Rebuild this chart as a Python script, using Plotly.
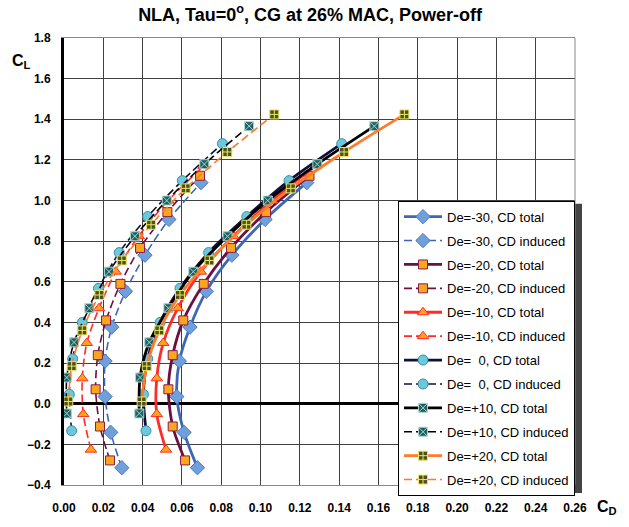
import plotly.graph_objects as go

# ---- data ----
cl_m30 = [-0.315, -0.141, 0.035, 0.210, 0.377, 0.553, 0.731, 0.907, 1.088]
cd_tot_m30 = [0.0679, 0.0611, 0.0574, 0.0587, 0.0641, 0.0724, 0.0854, 0.1023, 0.1235]
cd_ind_m30 = [0.0294, 0.0238, 0.0209, 0.0209, 0.0243, 0.0313, 0.0412, 0.0534, 0.0697]

cl_m20 = [-0.279, -0.112, 0.071, 0.239, 0.410, 0.590, 0.767, 0.943, 1.122]
cd_tot_m20 = [0.0616, 0.0553, 0.0531, 0.0553, 0.0607, 0.0711, 0.0850, 0.1028, 0.1249]
cd_ind_m20 = [0.0234, 0.0183, 0.0161, 0.0172, 0.0214, 0.0287, 0.0387, 0.0526, 0.0692]

cl_m10 = [-0.226, -0.051, 0.125, 0.299, 0.470, 0.650, 0.825, 1.000, 1.170]
cd_tot_m10 = [0.0519, 0.0472, 0.0472, 0.0505, 0.0579, 0.0696, 0.0862, 0.1058, 0.1280]
cd_ind_m10 = [0.0137, 0.0098, 0.0093, 0.0116, 0.0178, 0.0263, 0.0380, 0.0530, 0.0710]

cl_0 = [-0.133, 0.046, 0.221, 0.400, 0.568, 0.744, 0.921, 1.098, 1.280]
cd_tot_0 = [0.0417, 0.0404, 0.0426, 0.0489, 0.0590, 0.0736, 0.0930, 0.1145, 0.1413]
cd_ind_0 = [0.0039, 0.0027, 0.0044, 0.0093, 0.0175, 0.0281, 0.0426, 0.0602, 0.0806]

cl_p10 = [-0.048, 0.129, 0.302, 0.470, 0.650, 0.824, 1.000, 1.179, 1.366]
cd_tot_p10 = [0.0383, 0.0387, 0.0434, 0.0531, 0.0658, 0.0832, 0.1037, 0.1289, 0.1579]
cd_ind_p10 = [0.0014, 0.0014, 0.0051, 0.0129, 0.0229, 0.0361, 0.0523, 0.0714, 0.0942]

cl_p20 = [0.011, 0.185, 0.361, 0.535, 0.705, 0.881, 1.060, 1.239, 1.424]
cd_tot_p20 = [0.0395, 0.0421, 0.0485, 0.0590, 0.0740, 0.0928, 0.1154, 0.1425, 0.1732]
cd_ind_p20 = [0.0022, 0.0039, 0.0093, 0.0180, 0.0294, 0.0443, 0.0619, 0.0831, 0.1070]

series = [
    ("De=-30", cl_m30, cd_tot_m30, cd_ind_m30, "#3F66B6", "diamond", "#6FA0DC", "#4A78C0", 11),
    ("De=-20", cl_m20, cd_tot_m20, cd_ind_m20, "#6B1040", "square", "#F9A61E", "#8B1A4A", 9),
    ("De=-10", cl_m10, cd_tot_m10, cd_ind_m10, "#FF2A2A", "triangle-up", "#FFA21A", "#FF2A2A", 10),
    ("De=\u00a0\u00a00", cl_0, cd_tot_0, cd_ind_0, "#10103C", "circle", "#6CC8DC", "#3A8FA8", 10),
    ("De=+10", cl_p10, cd_tot_p10, cd_ind_p10, "#000000", "square-x", "#1F5F5F", "#A8D8D0", 9),
    ("De=+20", cl_p20, cd_tot_p20, cd_ind_p20, "#FF7A2A", "square-cross", "#50501E", "#E8E860", 9),
]

fig = go.Figure()
for name, cl, cdt, cdi, lc, sym, mfill, mline, ms in series:
    fig.add_trace(go.Scatter(
        x=cdt, y=cl, mode="lines+markers", name=f"{name}, CD total",
        legendgroup=name + "t",
        line=dict(color=lc, width=2.8, shape="spline", smoothing=0.8),
        marker=dict(symbol=sym, size=ms, color=mfill, line=dict(color=mline, width=1)),
    ))
    fig.add_trace(go.Scatter(
        x=cdi, y=cl, mode="lines+markers", name=f"{name}, CD induced",
        legendgroup=name + "i",
        line=dict(color=lc, width=1.6, shape="spline", smoothing=0.8, dash="8px,4px"),
        marker=dict(symbol=sym, size=ms, color=mfill, line=dict(color=mline, width=1)),
    ))

font_family = "Liberation Sans, Arial, sans-serif"

fig.update_layout(
    width=629, height=527,
    margin=dict(l=64, r=54, t=38, b=39),
    paper_bgcolor="white", plot_bgcolor="white",
    font=dict(family=font_family, color="black"),
    title=dict(text="<b>NLA, Tau=0<sup>o</sup>, CG at 26% MAC, Power-off</b>",
               x=0.493, xref="container", xanchor="center",
               y=0.985, yref="container", yanchor="top",
               font=dict(size=18, family=font_family)),
    showlegend=True,
    legend=dict(x=1, xanchor="right", y=0.636, yanchor="top",
                bgcolor="white", bordercolor="black", borderwidth=1,
                font=dict(size=13, family=font_family),
                tracegroupgap=4, traceorder="grouped", itemwidth=38),
    shapes=[
        dict(type="rect", xref="paper", yref="paper", x0=0.6595, x1=1.0137, y0=-0.0178, y1=0.629,
             fillcolor="#444", line=dict(width=0), layer="above"),
        dict(type="line", xref="paper", yref="paper", x0=1, x1=1, y0=0, y1=1,
             line=dict(color="#888", width=1)),
    ],
    annotations=[
        dict(text="<b>C<sub>L</sub></b>", xref="paper", yref="paper", x=-0.106, y=0.973,
             showarrow=False, font=dict(size=16, family=font_family)),
        dict(text="<b>C<sub>D</sub></b>", xref="paper", yref="paper", x=1.086, y=-0.0756,
             showarrow=False, font=dict(size=16, family=font_family)),
    ],
)
fig.update_xaxes(range=[0, 0.26], dtick=0.02, tick0=0, tickformat=".2f",
                 showgrid=True, gridcolor="#404040", gridwidth=1,
                 zeroline=True, zerolinecolor="black", zerolinewidth=3,
                 showline=True, mirror=True, linecolor="#888", linewidth=1,
                 ticks="", ticklabelstandoff=12,
                 tickfont=dict(size=12, family=font_family, weight="bold"))
fig.update_yaxes(range=[-0.4, 1.8], dtick=0.2, tick0=0, tickformat=".1f",
                 showgrid=True, gridcolor="#404040", gridwidth=1,
                 zeroline=True, zerolinecolor="black", zerolinewidth=3,
                 showline=True, linecolor="black", linewidth=3,
                 ticks="", ticklabelstandoff=8,
                 tickfont=dict(size=12, family=font_family, weight="bold"))

fig.write_html("out.html")
